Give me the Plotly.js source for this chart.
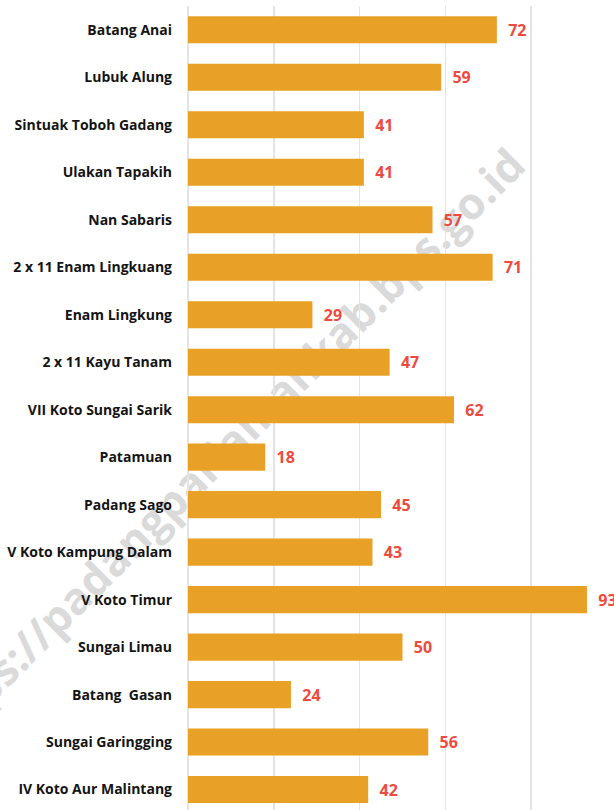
<!DOCTYPE html>
<html>
<head>
<meta charset="utf-8">
<script src="https://cdn.plot.ly/plotly-3.0.1.min.js"></script>
<style>html,body{margin:0;padding:0;background:#fff;}#chart{width:614px;height:810px;}</style>
</head>
<body>
<div id="chart"></div>
<script>
const categories = [
  "Batang Anai", "Lubuk Alung", "Sintuak Toboh Gadang", "Ulakan Tapakih",
  "Nan Sabaris", "2 x 11 Enam Lingkuang", "Enam Lingkung", "2 x 11 Kayu Tanam",
  "VII Koto Sungai Sarik", "Patamuan", "Padang Sago", "V Koto Kampung Dalam",
  "V Koto Timur", "Sungai Limau", "Batang  Gasan", "Sungai Garingging",
  "IV Koto Aur Malintang"
];
const values = [72, 59, 41, 41, 57, 71, 29, 47, 62, 18, 45, 43, 93, 50, 24, 56, 42];
const watermark = "https://padangpariamankab.bps.go.id";

const trace = {
  type: "bar",
  orientation: "h",
  y: categories.map((c, i) => i),
  x: values,
  marker: {color: "#E9A027"},
  text: values.map(v => "  " + v),
  textposition: "outside",
  textfont: {family: "Open Sans", size: 16, color: "#EE4A3E", weight: "bold"},
  constraintext: "none",
  cliponaxis: false,
  width: 0.57,
  hoverinfo: "skip"
};

const layout = {
  width: 614,
  height: 810,
  margin: {l: 188, r: 0, t: 6, b: 0, pad: 0},
  paper_bgcolor: "#ffffff",
  plot_bgcolor: "#ffffff",
  showlegend: false,
  xaxis: {
    range: [0, 99.3],
    dtick: 20,
    showgrid: true,
    gridcolor: "#e4e4e4",
    gridwidth: 1.5,
    zeroline: true,
    zerolinecolor: "#e4e4e4",
    zerolinewidth: 1.5,
    showticklabels: false,
    ticks: "",
    showline: false,
    fixedrange: true
  },
  yaxis: {
    range: [16.43, -0.5],
    tickmode: "array",
    tickvals: categories.map((c, i) => i),
    ticktext: categories,
    tickfont: {family: "Open Sans", size: 14, color: "#141414", weight: "bold"},
    ticks: "",
    showgrid: false,
    zeroline: false,
    showline: false,
    ticklabelstandoff: 15,
    fixedrange: true
  },
  shapes: [{
    type: "line",
    xref: "paper", yref: "paper",
    x0: -0.413, y0: 0.1816, x1: 0.582, y1: 0.709,
    layer: "below",
    line: {width: 0, color: "rgba(0,0,0,0)"},
    label: {
      text: watermark,
      textposition: "middle",
      yanchor: "middle",
      padding: 0,
      font: {family: "Open Sans", size: 44, color: "#dadada", weight: "bold"}
    }
  }]
};

Plotly.newPlot("chart", [trace], layout, {displayModeBar: false, staticPlot: true});
</script>
</body>
</html>
